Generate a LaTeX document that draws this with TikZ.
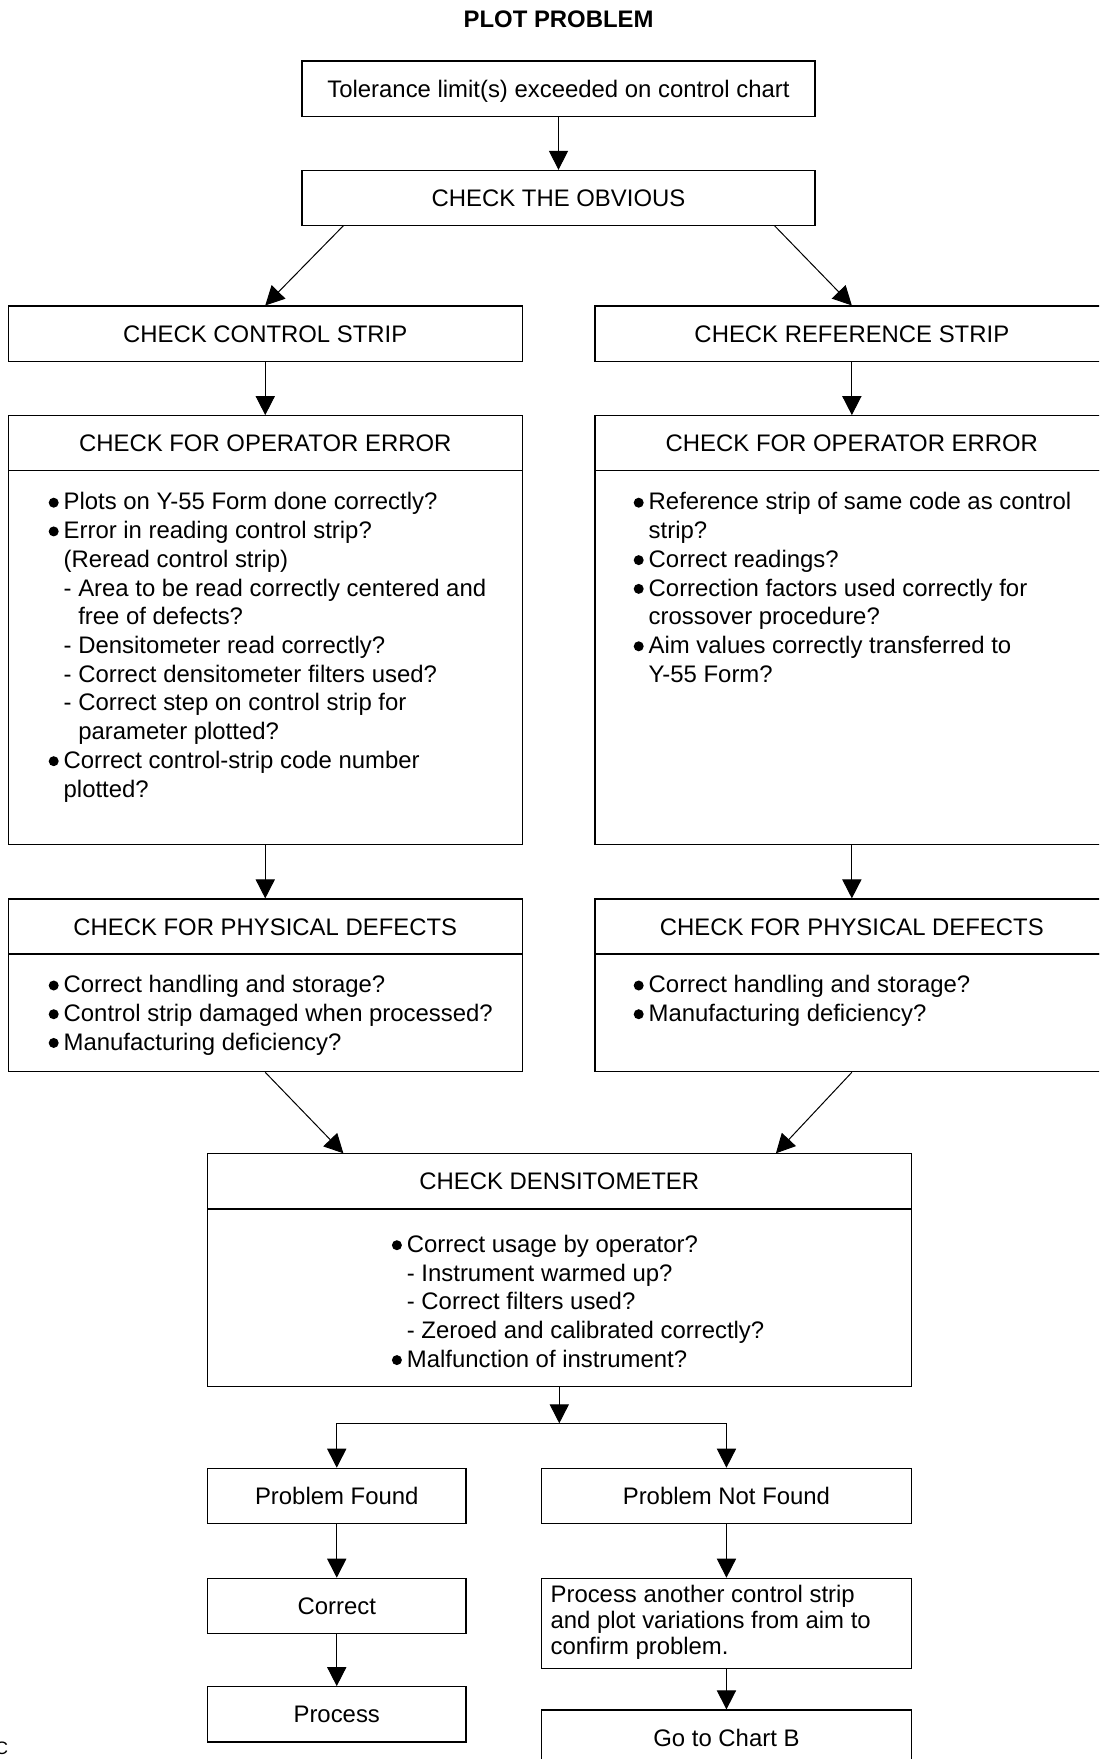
\documentclass[tikz,border=0pt]{standalone}
\usepackage{fontspec}
\setmainfont{Liberation Sans}
\usetikzlibrary{arrows.meta}
\newcommand{\bl}{\makebox[7.5pt][l]{\tikz[baseline=0pt]\fill (0,3.6pt) circle[radius=2.5pt];}}
\newcommand{\ind}{\hspace*{7.5pt}}
\newcommand{\dind}{\hspace*{7.5pt}\phantom{- }}
\newcommand{\fs}{\rule{0pt}{10pt}}
\begin{document}
\begin{tikzpicture}[x=0.5pt,y=-0.5pt,
  box/.style={draw, line width=0.6pt, inner sep=0pt, minimum height=27.6pt, text height=8.56pt, text depth=0pt, font=\fontsize{11.95}{14.36}\selectfont},
  ar/.style={-{Triangle[length=9.5pt,width=9.6pt]}, line width=0.5pt},
  txt/.style={inner sep=0pt, align=left, anchor=north west, font=\fontsize{11.95}{14.36}\selectfont}]
\useasboundingbox (0,0) rectangle (1099,1759);
\clip (0,0) rectangle (1099,1759);
\node[font=\bfseries\fontsize{11.95}{14.36}\selectfont, text height=8.56pt, text depth=0pt, inner sep=0pt] (title) at (558.6,19.2) {PLOT PROBLEM};
\node[box, minimum width=256.5pt] (b1) at (558.5,88.65) {Tolerance limit(s) exceeded on control chart};
\node[box, minimum width=256.5pt] (b2) at (558.5,198) {CHECK THE OBVIOUS};
\node[box, minimum width=256.85pt] (cs) at (265.25,333.65) {CHECK CONTROL STRIP};
\node[box, minimum width=256.85pt] (rs) at (851.85,333.65) {CHECK REFERENCE STRIP};
\node[box, minimum width=256.85pt, minimum height=27.5pt] (oeLh) at (265.25,443.2) {CHECK FOR OPERATOR ERROR};
\node[box, minimum width=256.85pt, minimum height=187pt] (oeLb) at (265.25,657.7) {};
\node[box, minimum width=256.85pt, minimum height=27.5pt] (oeRh) at (851.85,443.2) {CHECK FOR OPERATOR ERROR};
\node[box, minimum width=256.85pt, minimum height=187pt] (oeRb) at (851.85,657.7) {};
\node[box, minimum width=256.85pt, minimum height=27.5pt] (pdLh) at (265.25,926.5) {CHECK FOR PHYSICAL DEFECTS};
\node[box, minimum width=256.85pt, minimum height=58.85pt] (pdLb) at (265.25,1012.85) {};
\node[box, minimum width=256.85pt, minimum height=27.5pt] (pdRh) at (851.85,926.5) {CHECK FOR PHYSICAL DEFECTS};
\node[box, minimum width=256.85pt, minimum height=58.85pt] (pdRb) at (851.85,1012.85) {};
\node[box, minimum width=351.8pt, minimum height=27.85pt] (densh) at (559.3,1181.15) {CHECK DENSITOMETER};
\node[box, minimum width=351.8pt, minimum height=88.85pt] (densb) at (559.3,1297.85) {};
\node[box, minimum width=129.25pt, minimum height=27.7pt] (pf) at (336.75,1496) {Problem Found};
\node[box, minimum width=184.65pt, minimum height=27.7pt] (pnf) at (726.45,1496) {Problem Not Found};
\node[box, minimum width=129.25pt, minimum height=27.5pt] (cor) at (336.75,1605.8) {Correct};
\node[box, minimum width=129.25pt, minimum height=27.65pt] (proc) at (336.75,1714.35) {Process};
\node[box, minimum width=184.65pt, minimum height=45pt] (another) at (726.45,1623.3) {};
\node[box, minimum width=184.65pt, minimum height=27.5pt] (chartB) at (726.45,1737.5) {Go to Chart B};
% texts
\node[txt] (tL) at (48.3,489.5) {\fs\bl Plots on Y-55 Form done correctly?\\
\bl Error in reading control strip?\\
\ind(Reread control strip)\\
\ind- Area to be read correctly centered and\\
\dind free of defects?\\
\ind- Densitometer read correctly?\\
\ind- Correct densitometer filters used?\\
\ind- Correct step on control strip for\\
\dind parameter plotted?\\
\bl Correct control-strip code number\\
\ind plotted?};
\node[txt] (tR) at (633.3,489.5) {\fs\bl Reference strip of same code as control\\
\ind strip?\\
\bl Correct readings?\\
\bl Correction factors used correctly for\\
\ind crossover procedure?\\
\bl Aim values correctly transferred to\\
\ind Y-55 Form?};
\node[txt] (tpL) at (48.3,972.3) {\fs\bl Correct handling and storage?\\
\bl Control strip damaged when processed?\\
\bl Manufacturing deficiency?};
\node[txt] (tpR) at (633.3,972.3) {\fs\bl Correct handling and storage?\\
\bl Manufacturing deficiency?};
\node[txt] (tD) at (391.5,1232) {\fs\bl Correct usage by operator?\\
\ind- Instrument warmed up?\\
\ind- Correct filters used?\\
\ind- Zeroed and calibrated correctly?\\
\bl Malfunction of instrument?};
\node[txt, font=\fontsize{11.95}{12.9}\selectfont] (tA) at (550.2,1582) {\fs Process another control strip\\
and plot variations from aim to\\
confirm problem.};
\node[font=\fontsize{9}{10}\selectfont, anchor=east, inner sep=0pt] (code) at (8.5,1748.5) {C};
% connectors
\draw[ar] (b1) -- (b2);
\coordinate (a1) at (343.4,225.7);
\coordinate (a2) at (774.5,225.7);
\draw[ar] (a1) -- (cs.north);
\draw[ar] (a2) -- (rs.north);
\draw[ar] (cs) -- (oeLh);
\draw[ar] (rs) -- (oeRh);
\draw[ar] (oeLb) -- (pdLh);
\draw[ar] (oeRb) -- (pdRh);
\coordinate (d1) at (343.4,1153.3);
\coordinate (d2) at (775.9,1153.3);
\draw[ar] (pdLb.south) -- (d1);
\draw[ar] (pdRb.south) -- (d2);
\coordinate (j) at (559.3,1423.3);
\draw[ar] (densb.south) -- (j);
\draw[line width=0.5pt] (pf.north |- j) -- (pnf.north |- j);
\draw[ar] (pf.north |- j) -- (pf.north);
\draw[ar] (pnf.north |- j) -- (pnf.north);
\draw[ar] (pf) -- (cor);
\draw[ar] (cor) -- (proc);
\draw[ar] (pnf) -- (another);
\draw[ar] (another) -- (chartB);
\end{tikzpicture}
\end{document}
